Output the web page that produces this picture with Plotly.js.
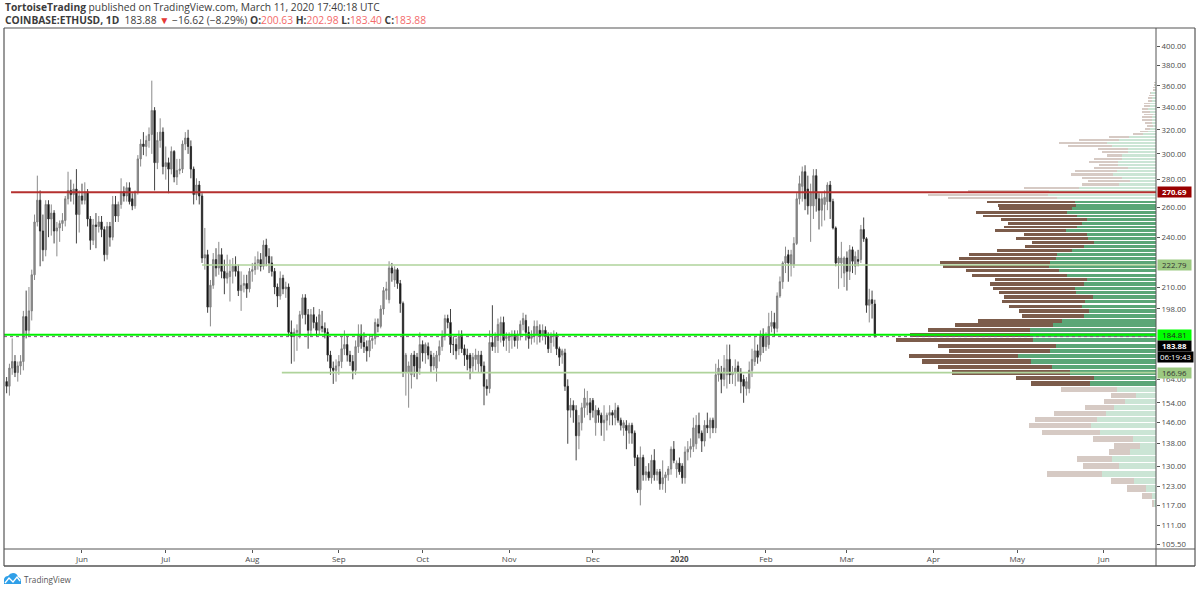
<!DOCTYPE html>
<html><head><meta charset="utf-8">
<script src="https://cdn.plot.ly/plotly-3.0.1.min.js"></script>
<style>html,body{margin:0;padding:0;background:#fff}#c{width:1200px;height:591px}</style></head>
<body><div id="c"></div>
<script>
const firstDay = "2019-05-05";
const opens = [163,161,169,172,167,170,172,194,187,197, 217,250,265,244,232,262,252,256,244,246,
249,251,266,272,269,273,255,268,265,271, 252,238,248,247,250,245,229,247,240,262,
254,262,271,268,274,266,261,271,296,308, 306,311,316,337,293,311,318,290,293,288,
302,282,287,288,308,313,306,288,269,276, 268,227,229,199,211,226,221,229,219,215,
216,219,222,219,208,211,212,209,219,220, 224,226,222,235,228,224,219,210,205,215,
209,210,186,184,186,185,195,204,195,187, 195,191,187,189,188,186,175,169,168,170,
172,178,180,175,172,168,179,185,181,179, 177,182,183,190,189,198,208,203,221,214,
220,212,201,167,167,166,175,174,169,180, 176,179,175,170,169,175,179,184,193,191,
180,180,178,185,178,175,175,170,173,171, 175,170,161,160,181,179,182,185,191,183,
182,184,185,182,185,190,192,186,183,184, 185,187,184,187,184,181,184,185,178,175,
176,161,151,153,151,141,146,152,153,154, 155,146,151,149,146,147,149,150,148,152,
147,144,145,142,145,142,133,122,133,127, 128,126,132,127,128,124,126,127,129,136,
129,131,130,126,135,136,137,138,145,142, 139,145,144,147,144,166,167,164,166,173,
166,167,170,167,164,160,160,168,172,177, 175,185,179,180,189,191,188,205,213,224,
229,223,223,236,266,275,286,273,261,261, 283,266,258,262,264,276,264,246,224,224,
218,227,219,232,222,226,226,245,239,200,203,200.63];
const highs = [165,171,183,175,172,175,197,208,210,220, 255,283,272,255,265,265,262,258,250,251,
256,268,286,280,277,288,272,277,278,273, 254,252,256,254,254,247,250,250,268,268,
264,281,275,278,278,270,272,299,312,318, 315,322,365,340,318,330,322,306,297,306,
303,296,296,311,318,320,311,290,281,279, 270,246,232,214,230,233,237,233,226,229,
226,227,228,223,219,217,217,221,224,228, 231,230,238,239,233,228,221,212,219,217,
213,212,192,188,190,197,206,206,198,198, 199,194,198,197,191,188,177,172,173,175,
184,187,184,177,175,182,190,190,186,182, 185,185,193,193,200,210,213,225,224,222,
221,214,202,176,172,176,177,176,186,182, 181,181,177,176,177,182,187,195,195,198,
184,183,187,187,180,178,176,176,178,177, 177,172,164,187,200,186,193,194,194,186,
186,187,187,187,192,196,195,189,187,192, 192,190,190,189,186,186,187,186,179,178,
178,164,156,155,153,149,154,160,159,156, 156,153,152,150,153,150,153,151,154,153,
148,147,147,146,146,143,134,137,134,130, 131,134,136,129,129,132,128,130,137,139,
132,133,131,137,139,140,148,149,150,143, 147,150,148,148,171,173,170,175,180,180,
170,173,172,169,166,165,172,178,184,180, 187,188,186,196,197,196,207,216,225,234,
232,232,240,270,283,290,291,283,277,288, 288,270,270,272,278,279,266,247,228,237,
228,231,235,234,231,232,248,253,240,209,208,202.98];
const lows = [158,157,166,165,163,166,168,183,184,192, 214,247,222,225,228,240,241,236,228,237,
244,247,262,264,262,236,243,262,262,247, 232,235,233,243,240,225,226,234,238,250,
250,259,264,264,262,258,259,269,290,299, 298,305,300,272,288,305,284,280,270,284,
278,276,284,285,303,300,281,262,265,262, 224,220,196,189,209,216,217,215,206,212,
202,212,216,205,197,207,204,207,213,217, 220,219,220,222,218,216,206,199,203,206,
204,184,171,172,177,183,193,190,178,184, 188,184,185,186,183,172,166,162,163,166,
169,175,172,170,164,166,176,178,176,172, 174,178,180,186,188,195,203,201,213,210,
209,196,165,157,152,160,165,164,166,172, 171,173,167,168,163,172,177,182,188,176,
175,173,175,176,170,168,164,167,168,167, 167,153,157,158,177,176,176,181,179,177,
176,178,179,178,182,187,182,178,180,181, 180,181,182,180,176,176,179,175,170,171,
159,138,148,146,132,136,143,148,149,147, 148,141,146,141,139,143,145,145,145,146,
143,141,136,138,138,130,121,117,125,125, 125,124,125,125,122,122,121,125,127,131,
126,127,124,124,132,133,135,136,140,135, 137,142,140,142,142,163,158,161,160,162,
162,161,163,158,154,157,158,165,170,171, 172,176,177,178,186,184,186,204,209,218,
213,216,221,235,262,264,258,255,237,252, 257,245,247,251,258,252,245,222,209,215,
210,208,214,218,217,222,224,237,196,191,193,183.40];
const closes = [161,169,172,167,170,172,194,187,197,217, 250,265,244,232,262,252,256,244,246,249,
251,266,272,269,273,255,268,265,271,252, 238,248,247,250,245,229,247,240,262,254,
262,271,268,274,264,261,271,296,308,306, 311,316,337,293,311,318,290,293,288,302,
282,287,288,308,313,306,288,269,276,268, 227,229,199,211,226,221,229,219,215,218,
219,222,219,208,211,212,209,219,220,224, 226,222,235,228,224,219,210,205,215,209,
210,186,184,186,187,195,204,195,187,195, 191,187,195,188,186,175,169,168,170,172,
178,180,175,172,168,179,185,181,179,177, 182,183,191,189,198,208,209,221,218,220,
212,201,167,175,170,175,170,167,180,176, 180,175,170,174,175,179,184,193,191,180,
180,177,184,178,175,173,169,174,175,175, 170,161,160,181,179,184,190,191,182,184,
184,185,182,185,190,193,186,183,184,189, 189,184,187,184,178,184,185,178,174,177,
161,151,153,151,141,146,152,156,154,150, 151,151,149,146,147,149,150,149,151,147,
145,146,143,145,142,133,122,133,127,128, 126,132,127,128,124,126,127,129,136,132,
131,128,126,135,136,137,144,145,142,139, 145,144,147,144,166,169,164,169,173,166,
167,169,167,163,161,163,168,173,177,174, 185,179,184,189,191,188,205,213,224,228,
224,229,236,266,277,286,266,261,270,283, 266,258,266,267,276,264,246,224,227,227,
227,219,232,225,228,225,245,239,200,203,201,183.88];

const profilePrices = [117.5,120.0,122.5,124.9,127.4,129.9,132.4,134.9,137.3,139.8,
142.3,144.8,147.3,149.8,152.2,154.7,157.2,159.7,162.2,164.6,
167.1,169.6,172.1,174.6,177.1,179.5,182.0,184.5,187.0,189.5,
191.9,194.4,196.9,199.4,201.9,204.4,206.8,209.3,211.8,214.3,
216.8,219.3,221.7,224.2,226.7,229.2,231.7,234.1,236.6,239.1,
241.6,244.1,246.6,249.0,251.5,254.0,256.5,259.0,261.4,263.9,
266.4,268.9,271.4,273.9,276.3,278.8,281.3,283.8,286.3,288.7,
291.2,293.7,296.2,298.7,301.2,303.6,306.1,308.6,311.1,313.6,
316.1,318.5,321.0,323.5,326.0,328.5,330.9,333.4,335.9,338.4,
340.9,343.4,345.8,348.3,350.8,353.3,355.8,358.2,360.7,363.2];
const volumeUp = [2,4.3,10,22,54.3,37.3,44,25.7,16,22.7,
55.7,65,59,50.3,42,31.3,19.7,39,66.3,62,
86,103.7,125,138.3,106,100,122.7,126,126,102.7,
94.3,72,67,74,70.7,63,79.7,81,72,69.3,
88.7,96.7,106.7,106,100,98.7,84,72.3,62.3,68.3,
69,90,79.3,74,69.3,79.3,88.7,83.7,80.3,81,
99.3,107.7,106.7,77,37.3,25.7,34.3,43.3,39.3,28.3,
38.3,38,34.3,34,27.7,27.7,43.7,49.3,36.7,27.3,
12.7,7.7,6,3.3,4.3,4.3,4.3,2.7,6,7.7,
6,6,4.3,4,2,5,1,1,1,1];
const volumeDown = [2.3,9.4,18.7,22.7,54.7,36,34.7,21.3,26,40.3,
58.3,61.7,62.3,51.4,29,21,25,56,58.7,77.7,
118,114.3,109.3,108.4,100.7,118.3,137.3,120,101.7,98.3,
84,62.3,70,73,83,89.3,77.6,82.3,93.7,91.7,
95.6,93.6,106.6,110,97,88.3,75,58.7,61.7,72,
63,71,73,73.7,85.7,93.4,91.3,73.3,78,87.7,
108.4,120,81,55,37,42.6,40,42,41.4,33.4,
18.7,29,27.4,15.3,26.6,30,44,47.7,40.3,19.4,
10,8.3,5,5.4,6.7,10,9.4,9.3,8.3,6,
6,6,3.4,3.7,4.7,1,1.7,1.7,1,1];
const valueAreaLow = 161, valueAreaHigh = 265;

const resistance = 270.69, midLevel = 222.79, pivot = 184.81, lastPrice = 183.88, support = 166.96;
const yTicks = [400,380,360,340,320,300,280,260,240,210,198,164,154,146,138,130,123,117,111,105.5];
const monthTicks = ["2019-06-01","2019-07-01","2019-08-01","2019-09-01","2019-10-01","2019-11-01","2019-12-01","2020-01-01","2020-02-01","2020-03-01","2020-04-01","2020-05-01","2020-06-01"];
const monthLabels = ["Jun","Jul","Aug","Sep","Oct","Nov","Dec","<b>2020</b>","Feb","Mar","Apr","May","Jun"];

const dates = opens.map((_, i) => new Date(Date.parse(firstDay + "T00:00:00Z") + i * 864e5).toISOString().slice(0, 10));
const xStart = "2019-05-04 01:30", xEnd = "2020-06-19 17:00";

const inVA = p => p >= valueAreaLow && p <= valueAreaHigh;
const rowWidths = profilePrices.map(p => 2.48 - 1.05 * p / 373.3);
const barUp = {type:'bar', orientation:'h', xaxis:'x', yaxis:'y', x:volumeUp, y:profilePrices, width:rowWidths,
  marker:{color:profilePrices.map(p => inVA(p) ? '#5ba677' : '#cbe5d5'), line:{width:0}}, hoverinfo:'skip', showlegend:false};
const barDown = {type:'bar', orientation:'h', xaxis:'x', yaxis:'y', x:volumeDown, y:profilePrices, width:rowWidths,
  marker:{color:profilePrices.map(p => inVA(p) ? '#7c5c4b' : '#d6cac4'), line:{width:0}}, hoverinfo:'skip', showlegend:false};
const candles = {type:'candlestick', xaxis:'x2', yaxis:'y', x:dates, open:opens, high:highs, low:lows, close:closes,
  whiskerwidth:0, hoverinfo:'skip', showlegend:false,
  increasing:{line:{color:'#7d7d7d', width:0.9}, fillcolor:'#909090'},
  decreasing:{line:{color:'#2e2e2e', width:0.9}, fillcolor:'#000000'}};
const level = (x0, v, color, width, dash) => ({type:'scatter', mode:'lines', xaxis:'x2', yaxis:'y', x:[x0, xEnd], y:[v, v],
  line:{color, width, dash:dash || 'solid'}, hoverinfo:'skip', showlegend:false});
const levels = [
  level("2019-05-06 14:00", resistance, '#b5302f', 2),
  level("2019-07-14", midLevel, '#afd39b', 1.6),
  level("2019-08-11 14:00", support, '#afd39b', 1.6),
  level(xStart, lastPrice, '#7d5c7d', 1, 'dot'),
  level(xStart, pivot, '#00f000', 2)
];

const px = v => (v - 4) / 1152, py = v => (549 - v) / 521;
const ln = (x0, y0, x1, y1, color, w) => ({type:'line', xref:'paper', yref:'paper', x0:px(x0), y0:py(y0), x1:px(x1), y1:py(y1), line:{color, width:w}});
const tagX = px(1156.5);
const tag = (v, text, bg, fg, w) => ({xref:'paper', yref:'y', x:tagX, y:Math.log10(v), xanchor:'left', yanchor:'middle', text, showarrow:false,
  bgcolor:bg, width:w || 33, height:10, borderpad:0, align:'center', font:{family:'Open Sans, sans-serif', size:7.8, color:fg}});
const label = (x, y, text, size, color) => ({xref:'paper', yref:'paper', x:px(x), y:py(y), xanchor:'left', yanchor:'middle', text, showarrow:false,
  align:'left', borderpad:0, font:{family:'Open Sans, sans-serif', size, color}});
const red = t => `<span style="color:#f36a6a">${t}</span>`;

const layout = {
  width:1200, height:591, margin:{l:4, r:44, t:28, b:42, pad:0}, paper_bgcolor:'#fff', plot_bgcolor:'#fff',
  showlegend:false, barmode:'stack', dragmode:false, hovermode:false,
  xaxis:{range:[1152, 0], visible:false, fixedrange:true, anchor:'y'},
  xaxis2:{type:'date', overlaying:'x', anchor:'y', side:'bottom', range:[xStart, xEnd], tickmode:'array', tickvals:monthTicks, ticktext:monthLabels,
    ticks:'outside', ticklen:3, tickwidth:1, tickcolor:'#555', showgrid:false, zeroline:false, showline:false, rangeslider:{visible:false},
    tickfont:{family:'Open Sans, sans-serif', size:8, color:'#4a4a4a'}, fixedrange:true, tickangle:0, ticklabelstandoff:-1},
  yaxis:{type:'log', side:'right', range:[Math.log10(104.1), Math.log10(420.3)], tickmode:'array', tickvals:yTicks,
    ticktext:yTicks.map(v => v.toFixed(2)), ticks:'outside', ticklen:3, tickwidth:1, tickcolor:'#555', showgrid:false, zeroline:false, showline:false,
    tickfont:{family:'Open Sans, sans-serif', size:7.8, color:'#4a4a4a'}, fixedrange:true},
  shapes:[
    ln(4,28,1195,28,'#555',1.2), ln(4,28,4,566,'#555',1.2), ln(1195,28,1195,566,'#555',1.2), ln(4,566,1195,566,'#555',1.6),
    ln(4,549,1195,549,'#555',1), ln(1156,28,1156,566,'#555',1),
    {type:'path', xref:'paper', yref:'paper', fillcolor:'#2f9fe8', line:{width:0},
     path:`M ${px(4)} ${py(584)} L ${px(4)} ${py(579)} Q ${px(5)} ${py(576)} ${px(8)} ${py(576)} Q ${px(10)} ${py(573)} ${px(13)} ${py(573)} Q ${px(17)} ${py(573)} ${px(18)} ${py(577)} Q ${px(21)} ${py(578)} ${px(21)} ${py(581)} L ${px(21)} ${py(584)} Z`},
    {type:'path', xref:'paper', yref:'paper', line:{color:'#fff', width:1.3},
     path:`M ${px(5)} ${py(583)} L ${px(9)} ${py(578)} L ${px(13)} ${py(582)} L ${px(17)} ${py(577)} L ${px(20)} ${py(581)}`}
  ],
  annotations:[
    label(4, 7, '<b>TortoiseTrading</b> published on TradingView.com, March 11, 2020 17:40:18 UTC', 10.25, '#3c3c3c'),
    label(4, 20, `<b>COINBASE:ETHUSD, 1D</b>  183.88 <span style="color:#e53935">▼</span> −16.62 (−8.29%) <b>O:</b>${red('200.63')} <b>H:</b>${red('202.98')} <b>L:</b>${red('183.40')} <b>C:</b>${red('183.88')}`, 10.25, '#3c3c3c'),
    label(22.5, 579, 'TradingView', 8.2, '#555'),
    tag(resistance, '<b>270.69</b>', '#990000', '#fff'),
    tag(midLevel, '222.79', '#9cc981', '#333'),
    tag(pivot, '184.81', '#00ff00', '#222'),
    tag(lastPrice - 4.8, '<b>183.88</b>', '#000', '#fff'),
    tag(174, '06:19:43', '#000', '#fff', 35),
    tag(support, '166.96', '#9cc981', '#333')
  ]
};
Plotly.newPlot('c', [barUp, barDown, candles, ...levels], layout, {staticPlot:true, displayModeBar:false});
</script></body></html>
